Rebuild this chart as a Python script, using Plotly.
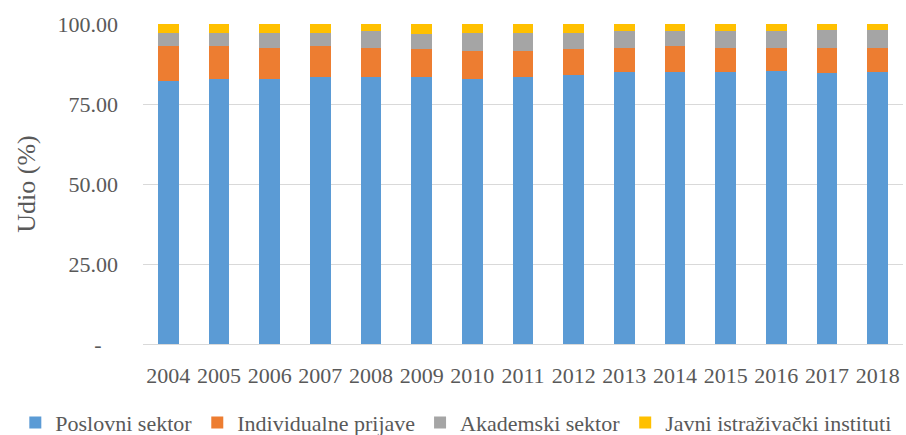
import plotly.graph_objects as go

years = ["2004", "2005", "2006", "2007", "2008", "2009", "2010", "2011",
         "2012", "2013", "2014", "2015", "2016", "2017", "2018"]

poslovni = [82.2, 82.9, 82.9, 83.4, 83.4, 83.4, 82.9, 83.4, 84.2, 85.0, 85.0, 85.0, 85.4, 84.6, 85.0]
individualne = [10.8, 10.1, 9.6, 9.6, 9.1, 8.7, 8.8, 8.3, 7.9, 7.5, 8.0, 7.5, 7.1, 7.9, 7.5]
akademski = [4.3, 4.3, 4.8, 4.3, 5.2, 4.8, 5.6, 5.6, 5.2, 5.2, 4.7, 5.2, 5.2, 5.6, 5.6]
javni = [2.7, 2.7, 2.7, 2.7, 2.3, 3.1, 2.7, 2.7, 2.7, 2.3, 2.3, 2.3, 2.3, 1.9, 1.9]

series_names = ["Poslovni sektor", "Individualne prijave", "Akademski sektor", "Javni istraživački instituti"]
series_values = [poslovni, individualne, akademski, javni]
series_colors = ["#5B9BD5", "#ED7D31", "#A5A5A5", "#FFC000"]

y_tickvals = [0, 25, 50, 75, 100]
y_ticktext = ["-\u00a0\u00a0\u00a0", "25.00", "50.00", "75.00", "100.00"]

FONT = "Liberation Serif, Times New Roman, serif"
TXT = "#595959"

fig = go.Figure()
for name, vals, col in zip(series_names, series_values, series_colors):
    fig.add_trace(go.Bar(x=years, y=vals, name=name, marker=dict(color=col, line=dict(width=0))))

fig.update_layout(
    barmode="stack",
    bargap=0.59,
    width=906, height=435,
    margin=dict(l=143, r=3, t=24, b=91, autoexpand=False),
    paper_bgcolor="white", plot_bgcolor="white",
    font=dict(family=FONT, size=22, color=TXT),
    legend=dict(
        orientation="h",
        xref="paper", yref="paper",
        x=-0.168, xanchor="left",
        y=-0.18, yanchor="top",
        font=dict(family=FONT, size=22, color=TXT),
        itemwidth=30,
        tracegroupgap=0,
        traceorder="normal",
    ),
    xaxis=dict(
        showgrid=False, showline=True, linecolor="#D9D9D9", linewidth=1,
        ticks="", tickfont=dict(family=FONT, size=22, color=TXT),
        ticklabelstandoff=12,
    ),
    yaxis=dict(
        range=[0, 100], tickvals=y_tickvals, ticktext=y_ticktext,
        showgrid=True, gridcolor="#D9D9D9", gridwidth=1,
        zeroline=False, showline=False, ticks="",
        tickfont=dict(family=FONT, size=22, color=TXT),
        ticklabelstandoff=24,
        title=dict(text="Udio (%)", font=dict(family=FONT, size=26, color=TXT), standoff=14),
    ),
)

fig.write_html("out.html", config={"displayModeBar": False},
               post_script="document.body.style.margin='0';")
